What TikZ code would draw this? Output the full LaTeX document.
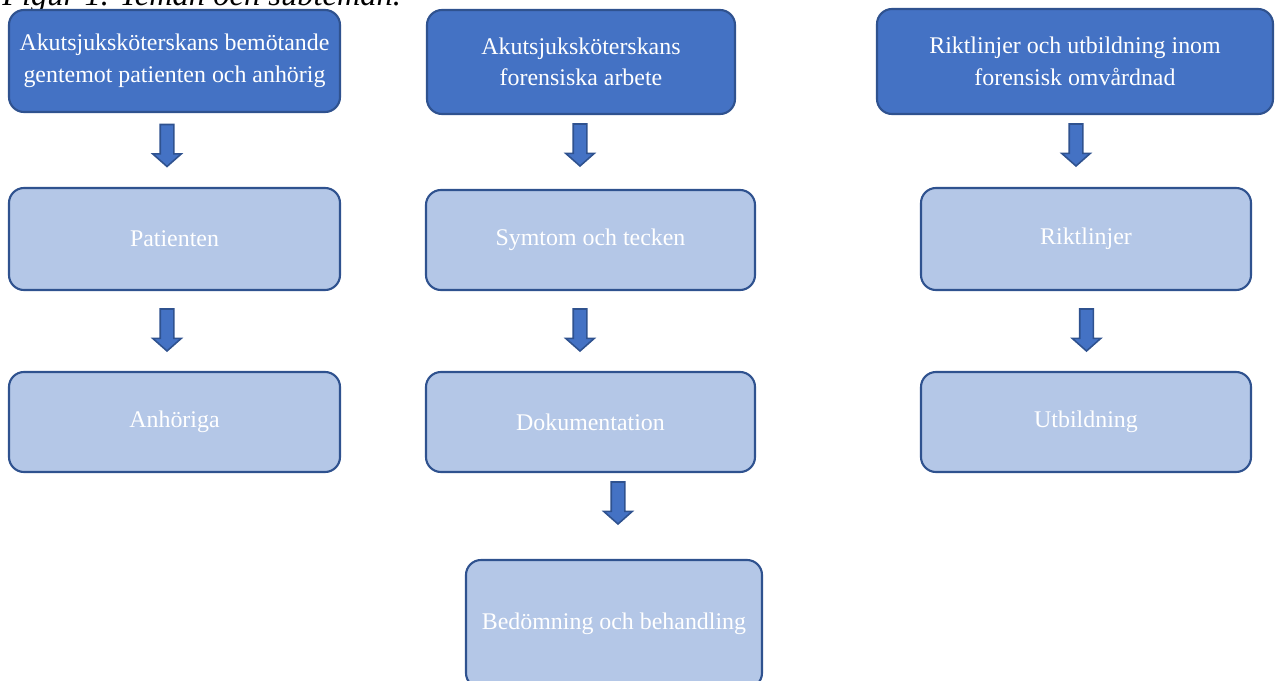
\documentclass[tikz,border=0pt]{standalone}
\usepackage{fontspec}
\setmainfont{Liberation Serif}
\usetikzlibrary{shapes.arrows}
\newcommand\pxu{0.02cm}
\definecolor{themeblue}{HTML}{4472C4}
\definecolor{themeline}{HTML}{2F528F}
\definecolor{subblue}{HTML}{B4C7E7}
\tikzstyle{box}=[%
	draw = themeline,
	line width = 1.2pt,
	rounded corners = 0.3cm,
	text = white,
	align = center,
	font = \fontsize{13.6}{18}\selectfont
]
\tikzstyle{theme}=[box, fill = themeblue]
\tikzstyle{subtheme}=[box, fill = subblue]
\tikzstyle{blockarrow}=[%
	single arrow,
	rotate = -90,
	draw = themeline,
	fill = themeblue,
	line width = 0.9pt,
	inner xsep = 0pt,
	inner ysep = 6*\pxu,
	minimum height = 42*\pxu,
	minimum width = 27*\pxu,
	single arrow head extend = 7.5*\pxu,
	single arrow tip angle = 97
]

\begin{document}
\begin{tikzpicture}[x=\pxu, y=-\pxu]
	\clip (0,0) rectangle (1275,680);

	% Caption
	\node[anchor=base west, inner sep=0pt, font=\fontsize{18.5}{22}\selectfont\itshape] (caption) at (2,5) {Figur 1. Teman och subteman.};

	% Themes
	\node[theme, minimum width=331*\pxu, minimum height=102*\pxu] (akut) at (174.5,61) {Akutsjuksköterskans bemötande\\gentemot patienten och anhörig};
	\node[theme, minimum width=308*\pxu, minimum height=104*\pxu] (forensisk) at (581,62) {Akutsjuksköterskans\\forensiska arbete};
	\node[theme, minimum width=396*\pxu, minimum height=105*\pxu] (riktutb) at (1075,61.5) {Riktlinjer och utbildning inom\\forensisk omvårdnad};

	% Subthemes
	\node[subtheme, minimum width=331*\pxu, minimum height=102*\pxu] (patienten) at (174.5,239) {Patienten};
	\node[subtheme, minimum width=331*\pxu, minimum height=100*\pxu] (anhoriga) at (174.5,422) {Anhöriga};
	\node[subtheme, minimum width=329*\pxu, minimum height=100*\pxu] (symtom) at (590.5,240) {Symtom och tecken};
	\node[subtheme, minimum width=329*\pxu, minimum height=100*\pxu] (dokument) at (590.5,422) {Dokumentation};
	\node[subtheme, minimum width=296*\pxu, minimum height=128*\pxu] (bedomning) at (614,624) {Bedömning och behandling};
	\node[subtheme, minimum width=330*\pxu, minimum height=102*\pxu] (riktlinjer) at (1086,239) {Riktlinjer};
	\node[subtheme, minimum width=330*\pxu, minimum height=100*\pxu] (utbildning) at (1086,422) {Utbildning};

	% Arrows
	\foreach \name/\x/\y in {a1/167/142.5, a2/167/327, a3/580/142, a4/580/327, a5/618/500, a6/1076/142, a7/1086.5/327} {
		\node[blockarrow] (\name) at (\x,\y) {};
	}

\end{tikzpicture}
\end{document}
